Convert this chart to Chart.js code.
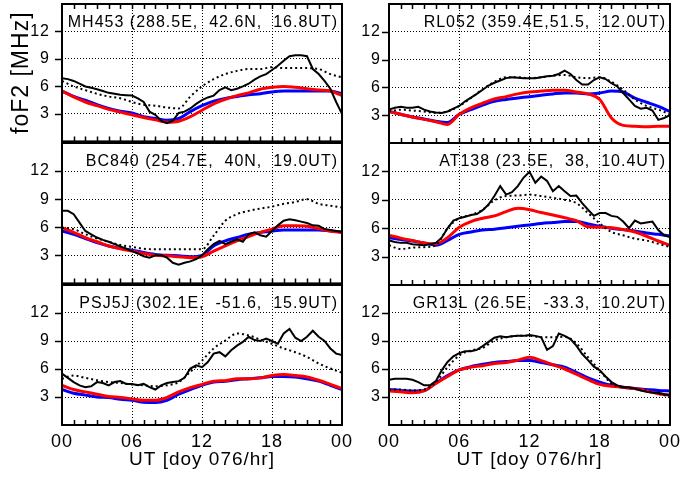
<!DOCTYPE html>
<html>
<head>
<meta charset="utf-8">
<script src="https://cdn.jsdelivr.net/npm/chart.js@4.4.1/dist/chart.umd.min.js"></script>
<style>
  html, body { margin: 0; padding: 0; background: #fff; }
  body { width: 680px; height: 477px; position: relative; overflow: hidden; }
  canvas { position: absolute; }
</style>
</head>
<body>
<canvas id="mh453"></canvas>
<canvas id="rl052"></canvas>
<canvas id="bc840"></canvas>
<canvas id="at138"></canvas>
<canvas id="psj5j"></canvas>
<canvas id="gr13l"></canvas>
<script>
// x values (UT hours, day 076)
const hours = [0, 1, 2, 3, 4, 5, 6, 7, 8, 9, 10, 11, 12, 13, 14, 15, 16, 17, 18, 19, 20, 21, 22, 23, 24];
const halfHours = [0, 0.5, 1, 1.5, 2, 2.5, 3, 3.5, 4, 4.5, 5, 5.5, 6, 6.5, 7, 7.5, 8, 8.5, 9, 9.5, 10, 10.5, 11, 11.5,
  12, 12.5, 13, 13.5, 14, 14.5, 15, 15.5, 16, 16.5, 17, 17.5, 18, 18.5, 19, 19.5, 20, 20.5, 21, 21.5, 22, 22.5, 23, 23.5, 24];
const xTickLabels = ['00', '06', '12', '18', '00'];
const yTickValues = [3, 6, 9, 12];

// MH453 (288.5E, 42.6N, 16.8UT)
const mh453Solid = [6.9, 6.8, 6.6, 6.3, 6.0, 5.85, 5.7, 5.5, 5.3, 5.2, 5.1, 5.05, 5.0, 4.7, 4.3, 3.25, 2.9, 2.25, 2.0, 2.25,
  3.1, 3.25, 3.6, 4.1, 4.5, 4.8, 5.0, 5.6, 5.9, 5.6, 5.75, 6.0, 6.3, 6.75, 7.1, 7.35, 7.8, 8.25, 8.8, 9.3,
  9.4, 9.4, 9.3, 7.9, 7.35, 6.6, 5.75, 4.3, 3.0];
const mh453Dotted = [6.6, 6.0, 5.6, 5.2, 4.9, 4.7, 4.3, 4.0, 3.9, 3.7, 3.6, 4.9, 6.0, 6.8, 7.35, 7.7, 7.9, 7.9, 8.1, 8.0, 8.0, 8.0, 7.9, 7.35, 7.0];
const mh453Blue = [5.5, 4.9, 4.5, 4.0, 3.6, 3.3, 3.1, 2.7, 2.5, 2.3, 2.5, 3.25, 3.9, 4.4, 4.7, 4.9, 5.1, 5.2, 5.4, 5.5, 5.5, 5.5, 5.5, 5.5, 5.2];
const mh453Red = [5.5, 4.85, 4.3, 3.9, 3.5, 3.2, 2.9, 2.6, 2.35, 2.1, 2.2, 2.7, 3.4, 4.1, 4.6, 5.0, 5.3, 5.7, 5.9, 6.0, 5.9, 5.75, 5.6, 5.5, 5.0];

// RL052 (359.4E,51.5, 12.0UT)
const rl052Solid = [3.6, 3.8, 3.9, 3.8, 3.8, 3.9, 3.6, 3.4, 3.3, 3.25, 3.4, 3.7, 4.0, 4.5, 4.9, 5.3, 5.75, 6.2, 6.5, 6.75,
  7.0, 7.1, 7.05, 7.0, 7.0, 7.0, 7.1, 7.2, 7.25, 7.45, 7.8, 7.45, 6.8, 6.3, 6.3, 6.8, 7.1, 6.9, 6.45, 6.1,
  5.4, 4.7, 4.0, 3.7, 3.8, 3.5, 2.5, 2.7, 3.0];
const rl052Dotted = [3.4, 3.6, 3.5, 3.4, 3.25, 3.4, 4.0, 4.85, 5.8, 6.6, 7.1, 7.1, 7.0, 7.1, 7.25, 7.35, 7.1, 7.0, 7.1, 6.6, 5.75, 4.7, 4.0, 3.6, 3.1];
const rl052Blue = [3.4, 3.1, 2.8, 2.6, 2.35, 2.2, 3.1, 3.6, 4.1, 4.5, 4.7, 4.85, 5.0, 5.15, 5.3, 5.4, 5.4, 5.3, 5.4, 5.6, 5.5, 4.85, 4.4, 3.95, 3.4];
const rl052Red = [3.4, 3.1, 2.8, 2.55, 2.3, 2.0, 3.1, 3.8, 4.3, 4.75, 5.0, 5.3, 5.5, 5.6, 5.7, 5.7, 5.5, 5.3, 4.7, 2.7, 1.9, 1.8, 1.75, 1.8, 1.8];

// BC840 (254.7E, 40N, 19.0UT)
const bc840Solid = [7.75, 7.75, 7.4, 6.5, 5.6, 5.25, 4.9, 4.65, 4.45, 4.2, 3.95, 3.7, 3.45, 3.2, 2.9, 2.75, 3.0, 3.0, 2.75, 2.2,
  2.0, 2.2, 2.35, 2.6, 3.0, 3.65, 4.2, 4.55, 4.2, 4.45, 4.7, 4.45, 5.25, 5.45, 5.15, 5.0, 5.6, 6.2, 6.7, 6.85,
  6.75, 6.6, 6.45, 6.2, 6.15, 5.8, 5.7, 5.6, 5.5];
const bc840Dotted = [5.95, 5.8, 5.25, 4.8, 4.45, 4.1, 3.9, 3.7, 3.65, 3.65, 3.65, 3.65, 3.65, 5.1, 6.7, 7.4, 7.75, 8.0, 8.2, 8.5, 8.7, 9.0, 8.5, 8.3, 8.1];
const bc840Blue = [5.6, 5.25, 4.8, 4.35, 4.0, 3.75, 3.55, 3.3, 3.1, 3.0, 2.95, 2.85, 3.0, 4.0, 4.55, 4.9, 5.25, 5.45, 5.6, 5.7, 5.7, 5.7, 5.7, 5.6, 5.5];
const bc840Red = [5.95, 5.45, 4.9, 4.45, 4.0, 3.7, 3.45, 3.2, 3.0, 2.95, 2.85, 2.75, 2.85, 3.45, 4.0, 4.55, 5.0, 5.45, 5.8, 6.15, 6.15, 6.1, 5.85, 5.6, 5.45];

// AT138 (23.5E, 38, 10.4UT)
const at138Solid = [4.7, 4.55, 4.45, 4.45, 4.3, 4.25, 4.2, 4.3, 4.45, 5.0, 6.0, 6.8, 7.05, 7.2, 7.4, 7.5, 7.9, 8.5, 9.4, 10.45,
  9.55, 9.8, 10.45, 11.35, 11.95, 10.8, 11.45, 11.0, 9.9, 10.45, 9.9, 9.4, 9.45, 8.65, 7.95, 7.3, 7.6, 7.6, 7.3, 7.2,
  6.7, 6.0, 6.8, 6.5, 6.6, 6.7, 5.8, 5.25, 5.1];
const at138Dotted = [4.2, 3.8, 3.95, 4.0, 4.2, 6.0, 7.05, 7.4, 7.95, 8.95, 9.4, 9.45, 9.55, 9.4, 9.2, 9.0, 8.65, 7.6, 6.5, 5.6, 5.25, 4.9, 4.7, 4.35, 4.0];
const at138Blue = [5.0, 4.8, 4.65, 4.45, 4.2, 4.7, 5.35, 5.6, 5.8, 5.9, 6.05, 6.2, 6.35, 6.5, 6.6, 6.7, 6.7, 6.45, 6.2, 6.0, 5.85, 5.7, 5.5, 5.35, 5.15];
const at138Red = [5.25, 4.95, 4.7, 4.45, 4.35, 5.0, 6.1, 6.7, 7.05, 7.3, 7.75, 8.1, 7.95, 7.65, 7.4, 7.1, 6.8, 6.15, 6.1, 6.05, 5.85, 5.6, 5.15, 4.65, 4.2];

// PSJ5J (302.1E, -51.6, 15.9UT)
const psj5jSolid = [5.5, 5.05, 4.6, 4.25, 4.05, 4.15, 4.6, 4.5, 4.25, 4.6, 4.7, 4.4, 4.4, 4.25, 4.4, 4.05, 3.8, 4.25, 4.5, 4.6,
  4.7, 5.05, 6.05, 6.4, 6.2, 6.75, 7.65, 7.8, 7.35, 8.0, 8.5, 8.9, 9.45, 9.1, 9.0, 9.25, 9.0, 8.7, 9.8, 10.3,
  9.35, 9.0, 9.45, 10.1, 9.45, 9.0, 8.2, 7.65, 7.5];
const psj5jDotted = [4.95, 5.3, 5.05, 4.8, 4.6, 4.5, 4.35, 4.25, 4.15, 4.25, 4.6, 5.7, 6.9, 8.2, 9.05, 9.8, 9.6, 9.15, 8.7, 8.2, 7.8, 7.3, 6.6, 6.05, 5.6];
const psj5jBlue = [3.8, 3.4, 3.2, 3.0, 2.95, 2.75, 2.65, 2.45, 2.4, 2.65, 3.3, 3.8, 4.25, 4.6, 4.7, 4.85, 4.95, 5.05, 5.2, 5.2, 5.15, 4.95, 4.7, 4.25, 3.8];
const psj5jRed = [4.25, 3.8, 3.55, 3.3, 3.05, 2.95, 2.8, 2.65, 2.65, 2.95, 3.55, 4.0, 4.35, 4.7, 4.75, 4.95, 4.95, 5.05, 5.3, 5.4, 5.3, 5.15, 4.8, 4.35, 3.9];

// GR13L (26.5E, -33.3, 10.2UT)
const gr13lSolid = [4.85, 4.95, 4.95, 4.95, 4.85, 4.6, 4.25, 4.25, 4.7, 5.85, 6.75, 7.35, 7.7, 7.9, 7.9, 8.05, 8.45, 8.9, 9.35, 9.5,
  9.4, 9.5, 9.55, 9.55, 9.65, 9.55, 9.4, 8.05, 8.45, 9.8, 9.55, 9.2, 8.5, 7.6, 6.95, 6.25, 5.85, 5.2, 4.6, 4.25,
  4.05, 4.05, 3.9, 3.7, 3.55, 3.45, 3.45, 3.3, 3.2];
const gr13lDotted = [3.8, 3.8, 3.7, 3.8, 4.6, 6.2, 7.45, 8.0, 8.25, 9.05, 9.4, 9.55, 9.55, 9.4, 9.4, 9.45, 8.75, 7.25, 5.85, 4.45, 4.05, 3.9, 3.65, 3.35, 3.05];
const gr13lBlue = [3.8, 3.7, 3.65, 3.7, 4.5, 5.3, 5.9, 6.25, 6.5, 6.7, 6.8, 6.9, 6.9, 6.7, 6.45, 6.2, 5.65, 5.05, 4.6, 4.25, 4.05, 3.9, 3.8, 3.7, 3.65];
const gr13lRed = [3.65, 3.55, 3.45, 3.65, 4.45, 5.2, 5.9, 6.2, 6.35, 6.6, 6.7, 6.95, 7.25, 6.9, 6.45, 6.0, 5.45, 4.85, 4.35, 4.15, 4.05, 3.9, 3.65, 3.35, 3.2];

// page layout of the six plot boxes
const columns = [
    { canvasLeft: 0, left: 62, right: 342, labelPad: 12 },
    { canvasLeft: 345, left: 389, right: 670, labelPad: 8 }
];
const rows = [
    { top: 4, bottom: 143 },
    { top: 143, bottom: 285 },
    { top: 285, bottom: 425 }
];
const FONT = '"Liberation Sans", Arial, Helvetica, sans-serif';

function toPoints(xs, ys) {
    return ys.map((v, i) => ({ x: xs[i], y: v }));
}

const panelFrame = {
    id: 'panelFrame',
    beforeDraw(chart) {
        chart.ctx.letterSpacing = '1px';
    },
    afterDraw(chart, args, opts) {
        const { ctx, chartArea: a, scales: { x, y } } = chart;
        ctx.save();
        ctx.strokeStyle = '#000';
        ctx.lineWidth = 1.5;
        ctx.beginPath();
        for (let h = 1; h < 24; h++) {
            const px = Math.round(x.getPixelForValue(h)) + 0.5;
            ctx.moveTo(px, a.bottom);
            ctx.lineTo(px, a.bottom - 5);
            if (opts.topTicks) {
                ctx.moveTo(px, a.top);
                ctx.lineTo(px, a.top + 5);
            }
        }
        yTickValues.forEach(v => {
            const py = Math.round(y.getPixelForValue(v)) + 0.5;
            ctx.moveTo(a.left, py);
            ctx.lineTo(a.left - 7, py);
        });
        ctx.stroke();
        ctx.lineWidth = 2;
        ctx.strokeRect(a.left, a.top, a.right - a.left, a.bottom - a.top);
        ctx.font = '16px ' + FONT;
        ctx.letterSpacing = '1px';
        ctx.fillStyle = '#000';
        ctx.textAlign = 'right';
        ctx.textBaseline = 'alphabetic';
        ctx.fillText(opts.title, a.right - 4, a.top + 23);
        ctx.restore();
    }
};

function createPanel(id, col, row, title, solid, dotted, blue, red) {
    const c = columns[col];
    const r = rows[row];
    const isBottom = row === rows.length - 1;
    const padTop = 24;
    const xAxisHeight = isBottom ? 477 - r.bottom : 20;
    const canvas = document.getElementById(id);
    canvas.width = c.right + 30 - c.canvasLeft;
    canvas.height = (r.bottom - r.top) + padTop + xAxisHeight;
    canvas.style.left = c.canvasLeft + 'px';
    canvas.style.top = (r.top - padTop) + 'px';

    new Chart(canvas.getContext('2d'), {
        type: 'line',
        data: {
            datasets: [
                { data: toPoints(halfHours, solid), borderColor: '#000', borderWidth: 2 },
                { data: toPoints(hours, dotted), borderColor: '#000', borderWidth: 2, borderDash: [2, 3], cubicInterpolationMode: 'monotone' },
                { data: toPoints(hours, red), borderColor: '#ff0000', borderWidth: 3, cubicInterpolationMode: 'monotone' },
                { data: toPoints(hours, blue), borderColor: '#0000ff', borderWidth: 3, cubicInterpolationMode: 'monotone' }
            ]
        },
        options: {
            responsive: false,
            animation: false,
            devicePixelRatio: 1,
            layout: { padding: { top: padTop, right: 30, bottom: 0, left: 0 } },
            elements: { point: { radius: 0 }, line: { tension: 0, fill: false } },
            plugins: {
                legend: { display: false },
                tooltip: { enabled: false },
                panelFrame: { title: title, topTicks: row === 0 }
            },
            scales: {
                x: {
                    type: 'linear',
                    min: 0,
                    max: 24,
                    grid: {
                        color: ctx => (ctx.tick && (ctx.tick.value === 0 || ctx.tick.value === 24)) ? 'rgba(0,0,0,0)' : '#000',
                        lineWidth: 1,
                        drawTicks: false
                    },
                    border: { display: false, dash: [1, 2] },
                    ticks: {
                        display: isBottom,
                        stepSize: 6,
                        autoSkip: false,
                        maxRotation: 0,
                        padding: 6,
                        color: '#000',
                        font: { family: FONT, size: 18 },
                        callback: v => xTickLabels[v / 6]
                    },
                    title: {
                        display: isBottom,
                        text: 'UT [doy 076/hr]',
                        color: '#000',
                        font: { family: FONT, size: 19 },
                        padding: { top: 0, bottom: 6 }
                    },
                    afterFit: s => { s.height = xAxisHeight; }
                },
                y: {
                    min: 0,
                    max: 15,
                    grid: { color: '#000', lineWidth: 1, drawTicks: false },
                    border: { display: false, dash: [1, 2] },
                    ticks: {
                        stepSize: 3,
                        padding: c.labelPad,
                        color: '#000',
                        font: { family: FONT, size: 16 }
                    },
                    title: {
                        display: col === 0 && row === 0,
                        text: 'foF2 [MHz]',
                        color: '#000',
                        font: { family: FONT, size: 23 },
                        padding: { top: 8, bottom: 0 }
                    },
                    afterBuildTicks: s => { s.ticks = s.ticks.filter(t => yTickValues.includes(t.value)); },
                    afterFit: s => { s.width = c.left - c.canvasLeft; }
                }
            }
        },
        plugins: [panelFrame]
    });
}

document.addEventListener('DOMContentLoaded', () => {
    createPanel('mh453', 0, 0, 'MH453 (288.5E,  42.6N,  16.8UT)', mh453Solid, mh453Dotted, mh453Blue, mh453Red);
    createPanel('rl052', 1, 0, 'RL052 (359.4E,51.5,  12.0UT)', rl052Solid, rl052Dotted, rl052Blue, rl052Red);
    createPanel('bc840', 0, 1, 'BC840 (254.7E,  40N,  19.0UT)', bc840Solid, bc840Dotted, bc840Blue, bc840Red);
    createPanel('at138', 1, 1, 'AT138 (23.5E,  38,  10.4UT)', at138Solid, at138Dotted, at138Blue, at138Red);
    createPanel('psj5j', 0, 2, 'PSJ5J (302.1E,  -51.6,  15.9UT)', psj5jSolid, psj5jDotted, psj5jBlue, psj5jRed);
    createPanel('gr13l', 1, 2, 'GR13L (26.5E,  -33.3,  10.2UT)', gr13lSolid, gr13lDotted, gr13lBlue, gr13lRed);
});
</script>
</body>
</html>
